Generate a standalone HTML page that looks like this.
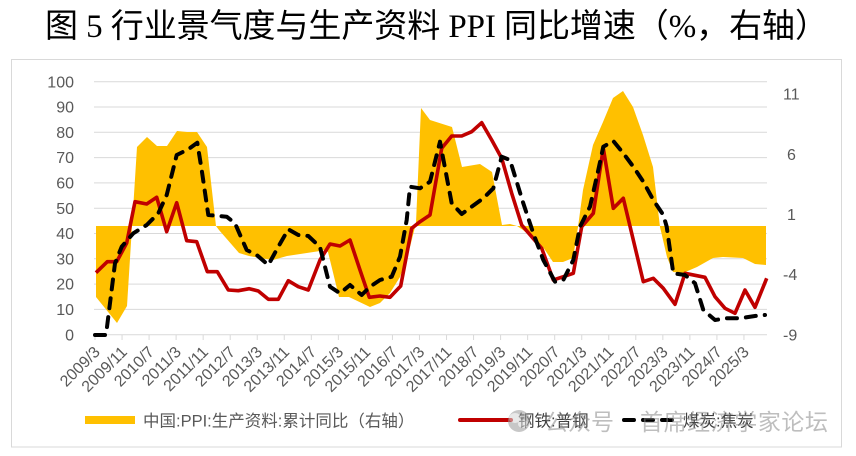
<!DOCTYPE html>
<html>
<head>
<meta charset="utf-8">
<style>
html,body{margin:0;padding:0;background:#fff;}
svg{display:block;}
</style>
</head>
<body>
<svg width="856" height="456" viewBox="0 0 856 456" xmlns="http://www.w3.org/2000/svg">
<rect x="0" y="0" width="856" height="456" fill="#fff"/>
<!-- Title -->
<text x="45" y="37" font-family="'Liberation Serif','Noto Sans CJK SC',serif" font-size="33" fill="#000" textLength="783" lengthAdjust="spacing">图 5 行业景气度与生产资料 PPI 同比增速（%，右轴）</text>
<!-- Frame -->
<rect x="11.5" y="59.5" width="830" height="387.5" fill="none" stroke="#d9d9d9" stroke-width="1"/>
<!-- Gridlines -->
<g stroke="#d9d9d9" stroke-width="1">
<line x1="94" y1="81.7" x2="767" y2="81.7"/>
<line x1="94" y1="107" x2="767" y2="107"/>
<line x1="94" y1="132.3" x2="767" y2="132.3"/>
<line x1="94" y1="157.6" x2="767" y2="157.6"/>
<line x1="94" y1="182.9" x2="767" y2="182.9"/>
<line x1="94" y1="208.2" x2="767" y2="208.2"/>
<line x1="94" y1="233.5" x2="767" y2="233.5"/>
<line x1="94" y1="258.8" x2="767" y2="258.8"/>
<line x1="94" y1="284.1" x2="767" y2="284.1"/>
<line x1="94" y1="309.4" x2="767" y2="309.4"/>
</g>
<!-- Area (PPI, right axis) -->
<polygon fill="#FFC000" points="96,226 96,297 117,323 127,306 137,147 147,137 157,146 167,146 177,131 187,132 197,132 207,147 216,226 219,230 239,253 249,256 260,258 273,260 287,256 320,251 323,250 328,252 339,297 349,297 370,307 380,303 390,293 400,277 410,247 416,223 421,108 430,120 452,127 462,167 480,164 492,172 502,225 510,224 517,226 523,230 543,247 553,262 563,262 573,258 578,227 583,190 593,145 603,122 613,98 623,91 633,107 643,135 653,167 660,227 667,257 673,272 683,273 697,267 713,258 723,257 743,258 755,264 766,265 766,226"/>
<!-- Axis line and ticks -->
<g stroke="#d9d9d9" stroke-width="1">
<line x1="94" y1="334.7" x2="767" y2="334.7"/>
<line x1="95" y1="334.7" x2="95" y2="340"/>
<line x1="122.04" y1="334.7" x2="122.04" y2="340"/>
<line x1="149.08" y1="334.7" x2="149.08" y2="340"/>
<line x1="176.12" y1="334.7" x2="176.12" y2="340"/>
<line x1="203.16" y1="334.7" x2="203.16" y2="340"/>
<line x1="230.2" y1="334.7" x2="230.2" y2="340"/>
<line x1="257.24" y1="334.7" x2="257.24" y2="340"/>
<line x1="284.28" y1="334.7" x2="284.28" y2="340"/>
<line x1="311.32" y1="334.7" x2="311.32" y2="340"/>
<line x1="338.36" y1="334.7" x2="338.36" y2="340"/>
<line x1="365.4" y1="334.7" x2="365.4" y2="340"/>
<line x1="392.44" y1="334.7" x2="392.44" y2="340"/>
<line x1="419.48" y1="334.7" x2="419.48" y2="340"/>
<line x1="446.52" y1="334.7" x2="446.52" y2="340"/>
<line x1="473.56" y1="334.7" x2="473.56" y2="340"/>
<line x1="500.6" y1="334.7" x2="500.6" y2="340"/>
<line x1="527.64" y1="334.7" x2="527.64" y2="340"/>
<line x1="554.68" y1="334.7" x2="554.68" y2="340"/>
<line x1="581.72" y1="334.7" x2="581.72" y2="340"/>
<line x1="608.76" y1="334.7" x2="608.76" y2="340"/>
<line x1="635.8" y1="334.7" x2="635.8" y2="340"/>
<line x1="662.84" y1="334.7" x2="662.84" y2="340"/>
<line x1="689.88" y1="334.7" x2="689.88" y2="340"/>
<line x1="716.92" y1="334.7" x2="716.92" y2="340"/>
<line x1="743.96" y1="334.7" x2="743.96" y2="340"/>
</g>
<!-- Red line (steel) -->
<polyline fill="none" stroke="#C00000" stroke-width="3.6" stroke-linejoin="round" points="96,272.7 107.3,261.7 116.7,261.7 126.7,243 135,201.7 146.7,204 156.7,197.3 166.7,231.7 176.7,202.7 186.7,240.7 196.7,241.7 207.3,271.7 217.3,271.7 228.3,290 238.3,290.7 249.3,288.7 258.3,291 268.3,299.3 278.3,299.3 288.3,280.7 298.3,286.7 308.3,290 320,260 330,244 340,246 350,240 360,270 369.3,297.3 380,296 390,297.3 400.7,286 411.7,228.3 420,221.7 430,215 441.7,148.3 451.7,136 461.7,136 471.7,131.7 481.7,122.7 491.7,140 501.7,158.3 511.7,193.3 521.7,225 531.7,236.7 541.7,248.3 553.3,280 563.3,276.7 573.3,273.3 581.7,226.7 593.3,213.3 603.3,148.3 613.3,208.3 623.3,198.3 643.3,281.7 653.3,278.3 663.3,288.3 675,304.3 685,273.3 705,277.3 715,296.7 725,308.3 735,313.3 745,290 755,307.3 766.7,278.3"/>
<!-- Dashed line (coal) -->
<polyline fill="none" stroke="#000" stroke-width="4" stroke-linejoin="round" stroke-linecap="round" stroke-dasharray="10 9" points="95,335 106,335 115,263.3 121.7,246.7 133.3,233.3 146.7,225 158.3,213.3 166.7,195 176.7,155 188.3,149.3 197.3,142.7 201.7,170 208.3,215 226.7,216.7 235,223.3 246.7,250 256.7,255 268.3,265 278.3,246.7 288.3,229.3 298.3,235 308.3,236 320,247 330,286.7 340,293.3 350,285 361.7,295 370,286.7 380,280 391.7,276.7 400,256.7 406.7,220 410,186.7 420,188.3 430,181.7 440,141.7 451.7,203.3 461.7,214 471.7,206.7 483.3,198.3 493.3,188.3 501.7,156.7 510,160 523.3,203.3 533.3,233.3 543.3,260 555,281.7 563.3,280 573.3,260 580,226.7 590,206.7 598.3,170 603.3,146.7 613.3,141 623.3,153.3 633.3,166.7 643.3,181.7 653.3,200 663.3,215 666.7,226.7 673.3,273.3 685,275 695,283.3 703.3,310 715,320 726.7,318.3 740,318.3 755,316 765,315"/>
<!-- Left axis labels -->
<g font-family="'Liberation Sans',sans-serif" font-size="16" fill="#595959" text-anchor="end">
<text x="74" y="87.3">100</text>
<text x="74" y="112.6">90</text>
<text x="74" y="137.9">80</text>
<text x="74" y="163.2">70</text>
<text x="74" y="188.5">60</text>
<text x="74" y="213.8">50</text>
<text x="74" y="239.1">40</text>
<text x="74" y="264.4">30</text>
<text x="74" y="289.7">20</text>
<text x="74" y="315">10</text>
<text x="74" y="340.3">0</text>
</g>
<!-- Right axis labels -->
<g font-family="'Liberation Sans',sans-serif" font-size="16" fill="#595959">
<text x="783" y="99.6">11</text>
<text x="787" y="159.8">6</text>
<text x="787" y="220">1</text>
<text x="783" y="280.1">-4</text>
<text x="783" y="340.3">-9</text>
</g>
<!-- X labels -->
<g font-family="'Liberation Sans',sans-serif" font-size="16" fill="#595959" text-anchor="end">
<text transform="translate(97,349) rotate(-45)" dy="0.35em">2009/3</text>
<text transform="translate(124.04,349) rotate(-45)" dy="0.35em">2009/11</text>
<text transform="translate(151.08,349) rotate(-45)" dy="0.35em">2010/7</text>
<text transform="translate(178.12,349) rotate(-45)" dy="0.35em">2011/3</text>
<text transform="translate(205.16,349) rotate(-45)" dy="0.35em">2011/11</text>
<text transform="translate(232.2,349) rotate(-45)" dy="0.35em">2012/7</text>
<text transform="translate(259.24,349) rotate(-45)" dy="0.35em">2013/3</text>
<text transform="translate(286.28,349) rotate(-45)" dy="0.35em">2013/11</text>
<text transform="translate(313.32,349) rotate(-45)" dy="0.35em">2014/7</text>
<text transform="translate(340.36,349) rotate(-45)" dy="0.35em">2015/3</text>
<text transform="translate(367.4,349) rotate(-45)" dy="0.35em">2015/11</text>
<text transform="translate(394.44,349) rotate(-45)" dy="0.35em">2016/7</text>
<text transform="translate(421.48,349) rotate(-45)" dy="0.35em">2017/3</text>
<text transform="translate(448.52,349) rotate(-45)" dy="0.35em">2017/11</text>
<text transform="translate(475.56,349) rotate(-45)" dy="0.35em">2018/7</text>
<text transform="translate(502.6,349) rotate(-45)" dy="0.35em">2019/3</text>
<text transform="translate(529.64,349) rotate(-45)" dy="0.35em">2019/11</text>
<text transform="translate(556.68,349) rotate(-45)" dy="0.35em">2020/7</text>
<text transform="translate(583.72,349) rotate(-45)" dy="0.35em">2021/3</text>
<text transform="translate(610.76,349) rotate(-45)" dy="0.35em">2021/11</text>
<text transform="translate(637.8,349) rotate(-45)" dy="0.35em">2022/7</text>
<text transform="translate(664.84,349) rotate(-45)" dy="0.35em">2023/3</text>
<text transform="translate(691.88,349) rotate(-45)" dy="0.35em">2023/11</text>
<text transform="translate(718.92,349) rotate(-45)" dy="0.35em">2024/7</text>
<text transform="translate(745.96,349) rotate(-45)" dy="0.35em">2025/3</text>
</g>
<!-- Legend -->
<rect x="85" y="416" width="50" height="8" fill="#FFC000"/>
<text x="143" y="426.5" font-family="'Liberation Sans','Noto Sans CJK SC',sans-serif" font-size="16.5" fill="#595959">中国:PPI:生产资料:累计同比（右轴）</text>
<line x1="460" y1="420" x2="511" y2="420" stroke="#C00000" stroke-width="4" stroke-linecap="round"/>
<text x="518" y="426.5" font-family="'Liberation Sans','Noto Sans CJK SC',sans-serif" font-size="16.5" fill="#404040">钢铁:普钢</text>
<line x1="624" y1="420" x2="672" y2="420" stroke="#000" stroke-width="4" stroke-linecap="round" stroke-dasharray="10 9"/>
<text x="683" y="426.5" font-family="'Liberation Sans','Noto Sans CJK SC',sans-serif" font-size="16.5" fill="#404040">煤炭:焦炭</text>
<!-- Watermark -->
<g opacity="0.55">
<circle cx="519" cy="421" r="11" fill="#9a9a9a"/>
<ellipse cx="515" cy="418" rx="6" ry="5" fill="#fff" opacity="0.6"/>
<ellipse cx="523" cy="424" rx="5" ry="4" fill="#fff" opacity="0.6"/>
<text x="545" y="430" font-family="'Noto Sans CJK SC',sans-serif" font-size="23" fill="#8a8a8a">公众号</text>
<text x="640" y="430" font-family="'Noto Sans CJK SC',sans-serif" font-size="23" fill="#8a8a8a" textLength="188" lengthAdjust="spacing">首席经济学家论坛</text>
</g>
</svg>
</body>
</html>
